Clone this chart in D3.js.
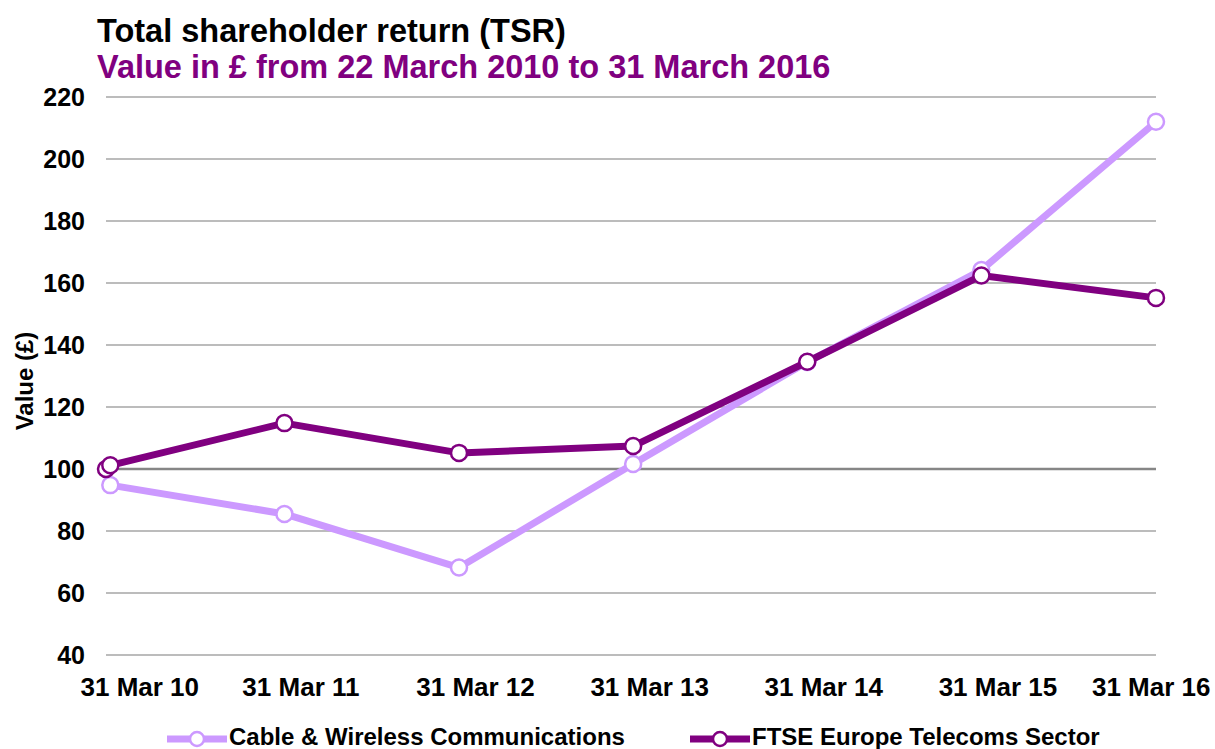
<!DOCTYPE html>
<html>
<head>
<meta charset="utf-8">
<script src="https://cdn.jsdelivr.net/npm/d3@7"></script>
<style>
    body { margin: 0; background: #fff; font-family: "Liberation Sans", Arial, sans-serif; }
    .grid line { stroke: #a6a6a6; stroke-width: 1.5; }
    .x-axis text, .y-axis text { font-weight: bold; fill: #000; }
</style>
</head>
<body>
<div id="chart"></div>
<script>

// dates of the data points
const dates = ["2010-03-22", "2010-03-31", "2011-03-31", "2012-03-31", "2013-03-31", "2014-03-31", "2015-03-31", "2016-03-31"];

// Cable & Wireless Communications (no point shown on 22 Mar 2010)
const cwValues = [null, 94.8, 85.5, 68.2, 101.6, 134.5, 164.2, 212.0];

// FTSE Europe Telecoms Sector
const ftseValues = [100, 101.2, 114.8, 105.2, 107.4, 134.6, 162.4, 155.2];

const tickDates = ["2010-03-31", "2011-03-31", "2012-03-31", "2013-03-31", "2014-03-31", "2015-03-31", "2016-03-31"];
const tickLabels = ["31 Mar 10", "31 Mar 11", "31 Mar 12", "31 Mar 13", "31 Mar 14", "31 Mar 15", "31 Mar 16"];
const yTicks = [40, 60, 80, 100, 120, 140, 160, 180, 200, 220];

const seriesNames = ["Cable & Wireless Communications", "FTSE Europe Telecoms Sector"];
const seriesColors = ["#cc99ff", "#800080"];

const parseDate = d3.timeParse("%Y-%m-%d");

let width = 1215, height = 749;
let margin = {top: 97, right: 59, bottom: 94, left: 106};
let innerW = width - margin.left - margin.right;
let innerH = height - margin.top - margin.bottom;

let svg = d3.select("#chart").append("svg")
    .attr("width", width)
    .attr("height", height);

// titles
svg.append("text")
    .attr("x", 97).attr("y", 42)
    .style("font-size", "32.5px").style("font-weight", "bold")
    .text("Total shareholder return (TSR)");

svg.append("text")
    .attr("x", 97).attr("y", 78)
    .style("font-size", "32.5px").style("font-weight", "bold")
    .style("fill", "#800080")
    .text("Value in £ from 22 March 2010 to 31 March 2016");

let g = svg.append("g")
    .attr("transform", `translate(${margin.left}, ${margin.top})`);

let x = d3.scaleTime()
    .domain([parseDate(dates[0]), parseDate(dates[dates.length - 1])])
    .range([0, innerW]);

let y = d3.scaleLinear()
    .domain([40, 220])
    .range([innerH, 0]);

// gridlines
g.append("g")
    .attr("class", "grid")
    .selectAll("line")
    .data(yTicks)
    .enter().append("line")
    .attr("x1", 0).attr("x2", innerW)
    .attr("y1", d => y(d)).attr("y2", d => y(d))
    .style("stroke", d => d === 100 ? "#868686" : null)
    .style("stroke-width", d => d === 100 ? 2.5 : null);

// y axis
let yAxis = d3.axisLeft(y).tickValues(yTicks).tickSize(0).tickPadding(21);
g.append("g")
    .attr("class", "y-axis")
    .call(yAxis)
    .call(a => a.select(".domain").remove())
    .selectAll("text")
    .style("font-size", "25px")
    .style("font-family", "Liberation Sans, Arial, sans-serif");

// x axis
let xAxis = d3.axisBottom(x)
    .tickValues(tickDates.map(parseDate))
    .tickFormat((d, i) => tickLabels[i])
    .tickSize(0)
    .tickPadding(23);

let xAxisGroup = g.append("g")
    .attr("class", "x-axis")
    .attr("transform", `translate(0, ${innerH})`)
    .call(xAxis)
    .call(a => a.select(".domain").remove());

let labelShift = 16;
xAxisGroup.selectAll("text")
    .style("font-size", "26px")
    .style("font-family", "Liberation Sans, Arial, sans-serif")
    .attr("dy", "0.71em")
    .attr("dx", labelShift);

// keep the end labels inside the picture
xAxisGroup.selectAll(".tick").each(function (d) {
    let t = d3.select(this).select("text");
    let w = t.node().getComputedTextLength();
    let cx = x(d) + labelShift + margin.left;
    if (cx - w / 2 < 80) t.attr("dx", labelShift + (80 - (cx - w / 2)));
    if (cx + w / 2 > 1210) t.attr("dx", labelShift - (cx + w / 2 - 1210));
});

// y axis title
svg.append("text")
    .attr("transform", "translate(33, 381) rotate(-90)")
    .attr("text-anchor", "middle")
    .style("font-size", "24px").style("font-weight", "bold")
    .text("Value (£)");

// lines
let series = [cwValues, ftseValues].map((vals, si) => ({
    name: seriesNames[si],
    color: seriesColors[si],
    points: vals.map((v, i) => ({date: parseDate(dates[i]), value: v})).filter(p => p.value !== null)
}));

let line = d3.line()
    .x(d => x(d.date))
    .y(d => y(d.value));

series.forEach(s => {
    g.append("path")
        .datum(s.points)
        .attr("fill", "none")
        .attr("stroke", s.color)
        .attr("stroke-width", 7)
        .attr("stroke-linejoin", "round")
        .attr("d", line);

    g.selectAll(null)
        .data(s.points)
        .enter().append("circle")
        .attr("cx", d => x(d.date))
        .attr("cy", d => y(d.value))
        .attr("r", 8)
        .attr("fill", "#fff")
        .attr("stroke", s.color)
        .attr("stroke-width", 2.5);
});

// legend
let legendX = [167, 690];
series.forEach((s, i) => {
    let lg = svg.append("g").attr("transform", `translate(${legendX[i]}, 739)`);
    lg.append("line")
        .attr("x1", 0).attr("x2", 60)
        .attr("stroke", s.color).attr("stroke-width", 7);
    lg.append("circle")
        .attr("cx", 30).attr("r", 7)
        .attr("fill", "#fff").attr("stroke", s.color).attr("stroke-width", 2.5);
    lg.append("text")
        .attr("x", 62).attr("y", 6)
        .style("font-size", "24px").style("font-weight", "bold")
        .text(s.name);
});

</script>
</body>
</html>
